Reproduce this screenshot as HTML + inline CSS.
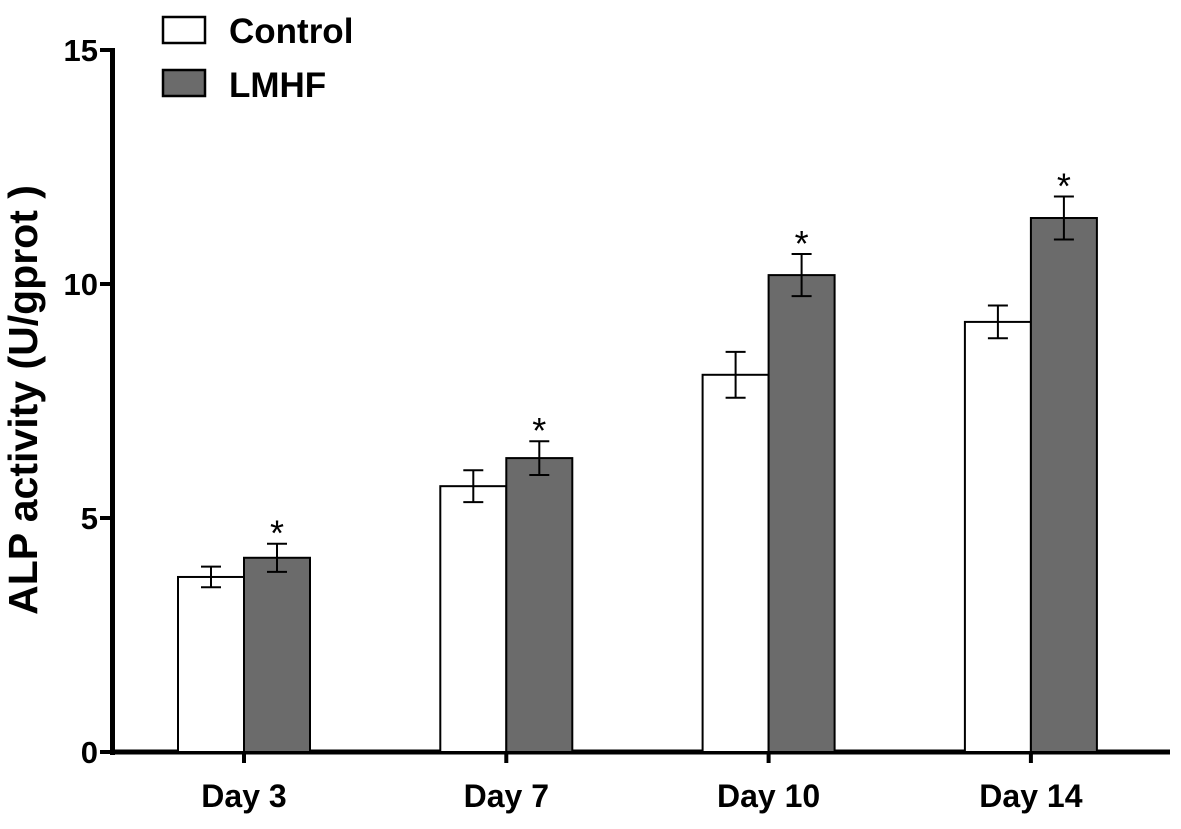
<!DOCTYPE html>
<html><head><meta charset="utf-8"><style>
body{margin:0;background:#fff}
svg{display:block;font-family:"Liberation Sans",Arial,sans-serif;font-weight:bold}
</style></head><body>
<svg id="chart" width="1181" height="829" viewBox="0 0 1181 829">
<g id="axes"></g><g id="bars"></g>
<g>
<rect x="163" y="17" width="42" height="26" fill="#fff" stroke="#000" stroke-width="2.5"/>
<text x="229" y="43" font-size="35">Control</text>
<rect x="163" y="70" width="42" height="26" fill="#6b6b6b" stroke="#000" stroke-width="2.5"/>
<text x="229" y="97" font-size="35">LMHF</text>
</g>
<text transform="translate(37,400) rotate(-90)" text-anchor="middle" font-size="41">ALP activity (U/gprot )</text>
</svg>
<script>
const categories=["Day 3","Day 7","Day 10","Day 14"];
const controlValues=[3.74,5.68,8.06,9.19];
const controlErrors=[0.22,0.34,0.49,0.35];
const lmhfValues=[4.15,6.28,10.19,11.41];
const lmhfErrors=[0.3,0.36,0.45,0.46];
const yTicks=[0,5,10,15];
const NS="http://www.w3.org/2000/svg";
const y=v=>752-v*46.8;
const xc=i=>244+i*262.3;
function mk(tag,attrs,parent,txt){const e=document.createElementNS(NS,tag);for(const k in attrs)e.setAttribute(k,attrs[k]);if(txt!==undefined)e.textContent=txt;parent.appendChild(e);return e;}
const ax=document.getElementById('axes'),bg=document.getElementById('bars');
let e=mk('line',{x1:112.5,y1:48,x2:112.5,y2:755,stroke:'#000','stroke-width':5},ax);


e=mk('line',{x1:110,y1:752,x2:1170,y2:752,stroke:'#000','stroke-width':5},ax);


yTicks.forEach(t=>{
 e=mk('line',{x1:100,y1:y(t),x2:112,y2:y(t),stroke:'#000','stroke-width':4},ax);
 
 
 e=mk('text',{x:98,y:y(t)+11,'text-anchor':'end','font-size':31},ax,String(t));
 
 
});
categories.forEach((c,i)=>{
 const cx=xc(i);
 [[controlValues,controlErrors,'#fff',-66,'control'],[lmhfValues,lmhfErrors,'#6b6b6b',0,'lmhf']].forEach(([vals,errs,fill,off,nm])=>{
  const v=vals[i],er=errs[i],x0=cx+off;
  e=mk('rect',{x:x0,y:y(v),width:66,height:752-y(v),fill:fill,stroke:'#000','stroke-width':2},bg);
  
  
  const m=x0+33;
  e=mk('path',{d:`M${m},${y(v+er)}V${y(v-er)}M${m-10},${y(v+er)}H${m+10}M${m-10},${y(v-er)}H${m+10}`,stroke:'#000','stroke-width':2,fill:'none'},bg);
  
  
  if(nm==='lmhf'){
   e=mk('text',{x:m,y:y(v+er)+2,'text-anchor':'middle','font-size':36,'font-weight':'normal'},bg,'*');
   
   
  }
 });
 e=mk('line',{x1:cx,y1:752,x2:cx,y2:763,stroke:'#000','stroke-width':4},ax);
 
 
 e=mk('text',{x:cx,y:807,'text-anchor':'middle','font-size':32},ax,c);
 
 
});
</script>
</body></html>
